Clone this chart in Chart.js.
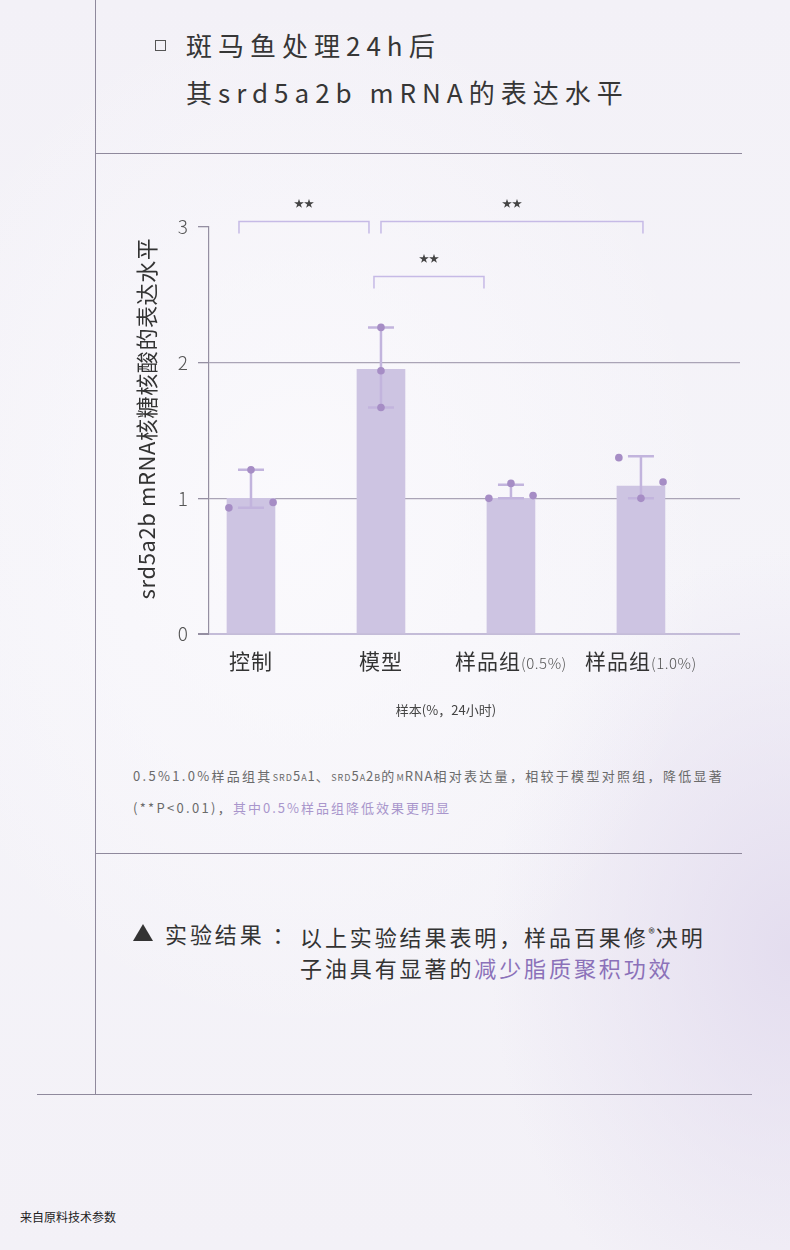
<!DOCTYPE html>
<html lang="zh-CN">
<head>
<meta charset="utf-8">
<title>srd5a2b mRNA 表达水平</title>
<script src="https://cdn.jsdelivr.net/npm/chart.js@4.4.1/dist/chart.umd.min.js"></script>
<style>
  html, body { margin: 0; padding: 0; }
  body {
    width: 790px; height: 1250px; position: relative; overflow: hidden;
    font-family: "Noto Sans CJK SC", "Noto Sans", sans-serif; color: #333;
    background:
      radial-gradient(ellipse 420px 520px at 300px 520px, rgba(251,250,253,0.9) 0%, rgba(251,250,253,0) 100%),
      radial-gradient(ellipse 300px 400px at 790px 950px, rgba(226,219,238,0.9) 0%, rgba(226,219,238,0) 100%),
      linear-gradient(180deg, #f3f1f7 0%, #f5f4f9 50%, #f3f1f7 100%);
  }
  .line { position: absolute; background: #8f899c; }
  .sq { position: absolute; left: 155px; top: 40px; width: 9px; height: 9px; border: 1px solid #555; }
  .head { position: absolute; left: 186px; font-size: 26px; line-height: 34px; letter-spacing: 6px; color: #363636; white-space: nowrap; }
  .note { position: absolute; left: 133px; font-size: 13px; line-height: 20px; letter-spacing: 2.3px; color: #6a6a6a; white-space: nowrap; }
  .note .sc { font-variant: small-caps; letter-spacing: 1px; }
  .note .hl { color: #a996cc; letter-spacing: 2px; }
  .res { position: absolute; font-size: 22px; line-height: 30px; letter-spacing: 2.9px; color: #333; white-space: nowrap; }
  .res .hl { color: #8b71b9; }
  .res sup { font-size: 13px; vertical-align: 8px; letter-spacing: 1px; }
  .tri { position: absolute; left: 133px; top: 924px; width: 0; height: 0;
    border-left: 10px solid transparent; border-right: 10px solid transparent; border-bottom: 17px solid #333; }
  .src { position: absolute; left: 20px; top: 1208px; font-size: 12px; line-height: 18px; color: #222; }
  #chart { position: absolute; left: 0; top: 0; pointer-events: none; }
</style>
</head>
<body>
<div class="line" style="left:95px; top:0; width:1px; height:1094px;"></div>
<div class="line" style="left:95px; top:153px; width:647px; height:1px;"></div>
<div class="line" style="left:95px; top:853px; width:647px; height:1px;"></div>
<div class="line" style="left:37px; top:1094px; width:715px; height:1px;"></div>

<div class="sq"></div>
<div class="head" style="top:28px;">斑马鱼处理24h后</div>
<div class="head" style="top:75px;">其srd5a2b mRNA的表达水平</div>

<canvas id="chart" width="790" height="760"></canvas>

<div class="note" style="top:766px;">0.5%1.0%样品组其<span class="sc">srd5a1</span>、<span class="sc">srd5a2b</span>的<span class="sc">mRNA</span>相对表达量，相较于模型对照组，降低显著</div>
<div class="note" style="top:798px;">(**P&lt;0.01)，<span class="hl">其中0.5%样品组降低效果更明显</span></div>

<div class="tri"></div>
<div class="res" style="left:165px; top:918px;">实验结果 ：</div>
<div class="res" style="left:300px; top:918px;">以上实验结果表明，样品百果修<sup>®</sup>决明</div>
<div class="res" style="left:300px; top:952px;">子油具有显著的<span class="hl">减少脂质聚积功效</span></div>

<div class="src">来自原料技术参数</div>

<script>
  // ---------- dados ----------
  var CATS = ["控制", "模型", "样品组", "样品组"];
  var CAT_NOTES = ["", "", "(0.5%)", "(1.0%)"];
  var MEANS = [1.00, 1.95, 1.00, 1.09];
  var ERR_LOW = [0.93, 1.67, 1.00, 1.00];
  var ERR_HIGH = [1.21, 2.26, 1.10, 1.31];
  var REP_CTRL = [0.93, 1.21, 0.97];
  var REP_MODEL = [2.26, 1.94, 1.67];
  var REP_05 = [1.00, 1.11, 1.02];
  var REP_10 = [1.30, 1.00, 1.12];
  var Y_TICKS = [0, 1, 2, 3];
  var SIG_PAIRS = [[0, 1], [1, 3], [1, 2]];
  var SIG_LABEL = "★★";
  var Y_TITLE = "srd5a2b mRNA核糖核酸的表达水平";
  var X_TITLE = "样本(%，24小时)";

  // ---------- layout (não são dados) ----------
  var REPS = [REP_CTRL, REP_MODEL, REP_05, REP_10];
  var JITTER = [[-1, 0, 1], [0, 0, 0], [-1, 0, 1], [-1, 0, 1]];
  var JITTER_STEP = 0.17;
  var SIG_LEVEL = [3.046, 3.046, 2.641];
  var SIG_OFFSET = [[-12, -12], [0, 2], [-7, -27]];
  var FONT = '"Noto Sans CJK SC", "Noto Sans", sans-serif';

  var pontos = [];
  REPS.forEach(function (rep, i) {
    rep.forEach(function (v, k) {
      pontos.push({ x: i + JITTER[i][k] * JITTER_STEP, y: v });
    });
  });

  var anotacoes = {
    id: "anotacoes",
    // barras de erro entre as barras e os pontos
    afterDatasetDraw: function (chart, args) {
      if (args.index !== 0) return;
      var sx = chart.scales.x, sy = chart.scales.y, ctx = chart.ctx;
      ctx.save();
      ctx.strokeStyle = "#c2b4dd";
      ctx.lineWidth = 2.5;
      MEANS.forEach(function (m, i) {
        var cx = sx.getPixelForValue(i);
        var top = sy.getPixelForValue(ERR_HIGH[i]);
        var bot = sy.getPixelForValue(ERR_LOW[i]);
        ctx.beginPath();
        ctx.moveTo(cx, top); ctx.lineTo(cx, bot);
        ctx.moveTo(cx - 13, top); ctx.lineTo(cx + 13, top);
        ctx.moveTo(cx - 13, bot); ctx.lineTo(cx + 13, bot);
        ctx.stroke();
      });
      ctx.restore();
    },
    afterDraw: function (chart) {
      var sx = chart.scales.x, sy = chart.scales.y, ctx = chart.ctx;
      var area = chart.chartArea;
      ctx.save();

      // colchetes de significância
      SIG_PAIRS.forEach(function (par, n) {
        var x1 = sx.getPixelForValue(par[0]) + SIG_OFFSET[n][0];
        var x2 = sx.getPixelForValue(par[1]) + SIG_OFFSET[n][1];
        var yy = Math.round(sy.getPixelForValue(SIG_LEVEL[n])) + 0.5;
        ctx.strokeStyle = "#c6bae6";
        ctx.lineWidth = 1.5;
        ctx.beginPath();
        ctx.moveTo(x1, yy + 12); ctx.lineTo(x1, yy); ctx.lineTo(x2, yy); ctx.lineTo(x2, yy + 12);
        ctx.stroke();
        ctx.fillStyle = "#444";
        ctx.font = "10px " + FONT;
        ctx.textAlign = "center";
        ctx.textBaseline = "middle";
        ctx.fillText(SIG_LABEL, (x1 + x2) / 2, yy - 18);
      });

      // rótulos das categorias (nome grande + nota pequena)
      ctx.textBaseline = "middle";
      ctx.textAlign = "left";
      ctx.fillStyle = "#333";
      CATS.forEach(function (c, i) {
        var cx = sx.getPixelForValue(i);
        ctx.font = "21px " + FONT;
        ctx.letterSpacing = "1px";
        var w1 = ctx.measureText(c).width;
        ctx.font = "300 15px " + FONT;
        ctx.letterSpacing = "0.5px";
        var w2 = CAT_NOTES[i] ? ctx.measureText(CAT_NOTES[i]).width : 0;
        var x0 = cx - (w1 + w2) / 2;
        ctx.font = "21px " + FONT;
        ctx.letterSpacing = "1px";
        ctx.fillText(c, x0, 661);
        if (CAT_NOTES[i]) {
          ctx.font = "300 15px " + FONT;
          ctx.letterSpacing = "0.5px";
          ctx.fillStyle = "#555";
          ctx.fillText(CAT_NOTES[i], x0 + w1, 663);
          ctx.fillStyle = "#333";
        }
      });
      ctx.letterSpacing = "0px";

      // título do eixo x
      ctx.textAlign = "center";
      ctx.font = "13px " + FONT;
      ctx.fillStyle = "#444";
      ctx.fillText(X_TITLE, (sx.getPixelForValue(0) + sx.getPixelForValue(CATS.length - 1)) / 2, 710);

      // título do eixo y
      ctx.translate(147, (area.top + area.bottom) / 2 - 12);
      ctx.rotate(-Math.PI / 2);
      ctx.font = "22px " + FONT;
      ctx.letterSpacing = "0.6px";
      ctx.fillStyle = "#333";
      ctx.fillText(Y_TITLE, 0, 0);
      ctx.restore();
    }
  };

  new Chart(document.getElementById("chart"), {
    type: "bar",
    data: {
      datasets: [{
        type: "bar",
        data: MEANS.map(function (v, i) { return { x: i, y: v }; }),
        backgroundColor: "#cdc4e2",
        borderWidth: 0,
        barThickness: 48,
        order: 2
      }, {
        type: "scatter",
        data: pontos,
        pointRadius: 3.8,
        pointBackgroundColor: "#a68dc5",
        pointBorderWidth: 0,
        order: 1
      }]
    },
    options: {
      responsive: false,
      animation: false,
      events: [],
      layout: { padding: { top: 227, right: 50, bottom: 126, left: 0 } },
      plugins: { legend: { display: false }, tooltip: { enabled: false } },
      scales: {
        x: {
          type: "linear",
          display: false,
          offset: false,
          min: -0.323,
          max: 3.762
        },
        y: {
          min: 0, max: 3,
          afterBuildTicks: function (s) { s.ticks = Y_TICKS.map(function (v) { return { value: v }; }); },
          afterFit: function (s) { s.width = 209; },
          border: { display: true, color: "#958fa2", width: 1.2 },
          grid: {
            tickLength: 11,
            tickColor: "#958fa2",
            color: function (c) {
              if (c.tick.value === 3) return "rgba(0,0,0,0)";
              return c.tick.value === 0 ? "#c4bcd8" : "#aaa4b6";
            },
            lineWidth: function (c) { return c.tick.value === 0 ? 2 : 1.3; }
          },
          ticks: {
            padding: 10,
            color: "#555",
            font: { family: FONT, size: 19, weight: "300" }
          }
        }
      }
    },
    plugins: [anotacoes]
  });
</script>
</body>
</html>
